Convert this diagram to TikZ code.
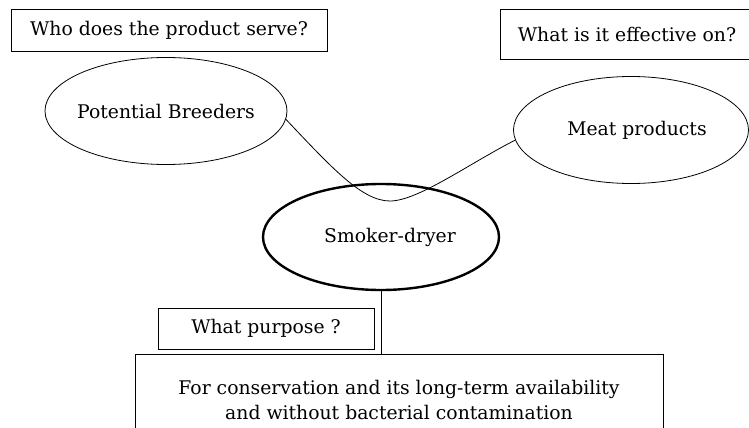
\documentclass[tikz,border=0pt]{standalone}
\usepackage{fontspec}
\setmainfont{DejaVu Serif}
\usetikzlibrary{shapes.geometric}
\tikzset{
  qbox/.style={draw, line width=0.9pt, inner sep=0pt, font=\fontsize{18.8}{25.5}\selectfont},
  bubble/.style={draw, ellipse, line width=0.8pt, inner sep=0pt, font=\fontsize{18.8}{24}\selectfont},
  link/.style={line width=0.8pt},
}
\begin{document}
\begin{tikzpicture}[x=1pt,y=-1pt]
\clip (0,0) rectangle (749,428);
\useasboundingbox (0,0) rectangle (749,428);
% question boxes
\node[qbox, minimum width=316pt, minimum height=42pt] (q1) at (169,30) {Who does the product serve?};
\node[qbox, minimum width=254pt, minimum height=50pt] (q2) at (627,34) {What is it effective on?};
\node[qbox, minimum width=216pt, minimum height=41pt] (q3) at (266,328.5) {What purpose ?};
% ellipses
\node[bubble, minimum width=242pt, minimum height=107pt] (pb) at (166,111) {\makebox[0pt]{Potential Breeders}};
\node[bubble, minimum width=235pt, minimum height=107pt] (meat) at (631,130) {\makebox[0pt]{\hspace*{12pt}Meat products}};
\node[bubble, line width=2.4pt, minimum width=236pt, minimum height=106pt] (smk) at (381,237) {\makebox[0pt]{\hspace*{18pt}Smoker-dryer}};
% answer box
\node[qbox, minimum width=528pt, minimum height=92pt, align=center] (ans) at (399,400)
  {For conservation and its long-term availability\\and without bacterial contamination};
% connectors
\coordinate (low) at (390,201);
\draw[link] (pb.-4) .. controls (332,168) and (362,201) .. (low)
            .. controls (418,201) and (470,163) .. (meat.185);
\draw[link] (smk.south) -- (smk.south |- ans.north);
\end{tikzpicture}
\end{document}
